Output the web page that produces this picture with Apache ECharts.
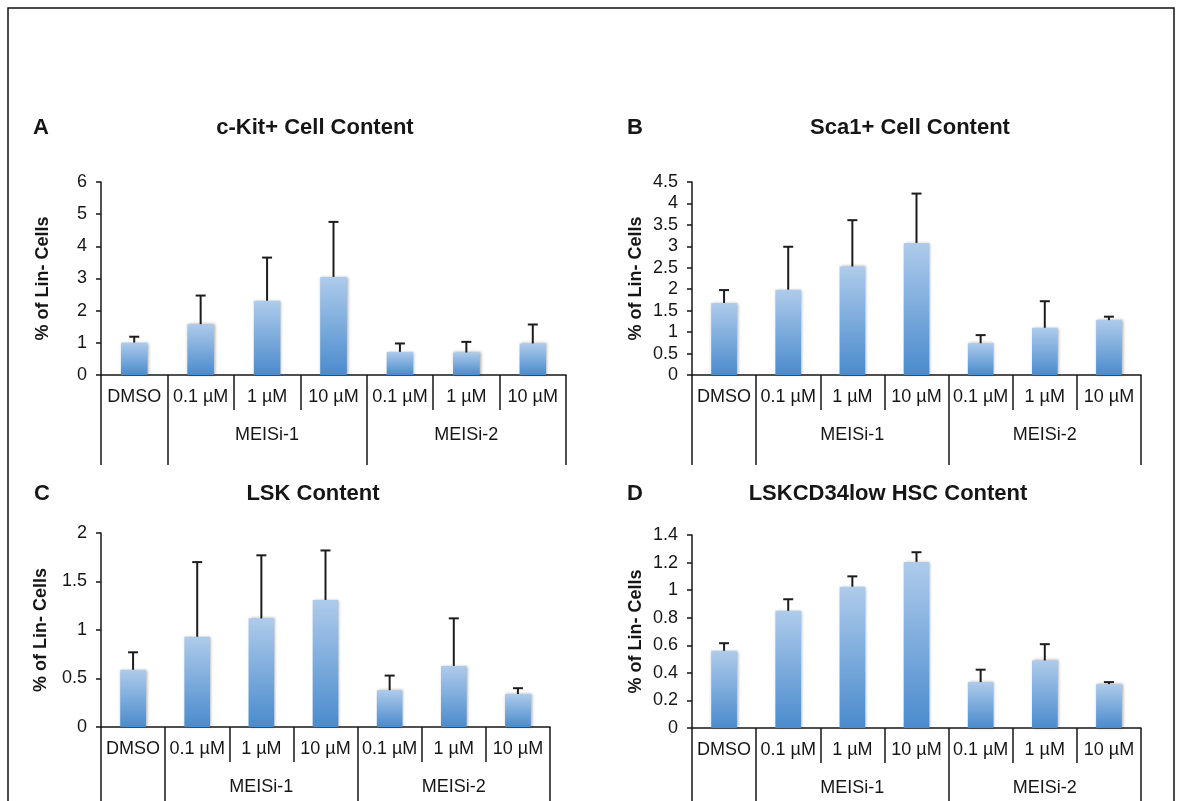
<!DOCTYPE html>
<html>
<head>
<meta charset="utf-8">
<script src="https://cdn.jsdelivr.net/npm/echarts@6/dist/echarts.min.js"></script>
<style>
  html, body { margin: 0; padding: 0; background: #ffffff; }
  #chart { width: 1182px; height: 801px; }
</style>
</head>
<body>
<div id="chart"></div>
<script>
// Treatment conditions (x axis, row 1) and their compound groups (row 2)
const doseLabels = ['DMSO', '0.1 µM', '1 µM', '10 µM', '0.1 µM', '1 µM', '10 µM'];
const groupLabels = ['', '', 'MEISi-1', '', '', 'MEISi-2', ''];
const groupBoundaryIndex = [0, 1, 4];

// Panel titles
const panelLetters = ['A', 'B', 'C', 'D'];
const panelTitles = ['c-Kit+ Cell Content', 'Sca1+ Cell Content', 'LSK Content', 'LSKCD34low HSC Content'];
const yAxisName = '% of Lin- Cells';

// Means and standard deviations (% of Lin- cells)
const ckitMean = [1.01, 1.58, 2.31, 3.05, 0.72, 0.70, 0.98];
const ckitSd   = [0.18, 0.89, 1.34, 1.71, 0.26, 0.33, 0.59];

const sca1Mean = [1.68, 1.99, 2.53, 3.08, 0.74, 1.10, 1.28];
const sca1Sd   = [0.30, 1.00, 1.08, 1.15, 0.19, 0.62, 0.08];

const lskMean = [0.59, 0.93, 1.12, 1.31, 0.38, 0.63, 0.34];
const lskSd   = [0.18, 0.77, 0.65, 0.51, 0.15, 0.49, 0.06];

const hscMean = [0.56, 0.85, 1.025, 1.205, 0.333, 0.49, 0.318];
const hscSd   = [0.055, 0.084, 0.075, 0.07, 0.09, 0.118, 0.015];

// Y axis ranges
const yMax = [6, 4.5, 2, 1.4];
const yStep = [1, 0.5, 0.5, 0.2];

const panelMeans = [ckitMean, sca1Mean, lskMean, hscMean];
const panelSds = [ckitSd, sca1Sd, lskSd, hscSd];

// Layout of the four plotting areas (pixels)
const panelBoxes = [
  { left: 101, top: 182, width: 465, height: 193, nameGap: 49, groupTick: 55, titleX: 315, titleY: 128, letterX: 33 },
  { left: 692, top: 182, width: 449, height: 193, nameGap: 47, groupTick: 55, titleX: 910, titleY: 128, letterX: 627 },
  { left: 101, top: 533, width: 449, height: 194, nameGap: 51, groupTick: 80, titleX: 313, titleY: 494, letterX: 34 },
  { left: 692, top: 535, width: 449, height: 193, nameGap: 47, groupTick: 80, titleX: 888, titleY: 494, letterX: 627 }
];

const FONT = '"Liberation Sans", Arial, Helvetica, sans-serif';
const INK = '#161616';

const chart = echarts.init(document.getElementById('chart'), null, { renderer: 'canvas' });

const grid = [], xAxis = [], yAxis = [], series = [], graphic = [];

panelBoxes.forEach(function (box, p) {
  grid.push({ left: box.left, top: box.top, width: box.width, height: box.height, containLabel: false });

  // Dose row with short dividers between every condition
  xAxis.push({
    type: 'category', gridIndex: p, data: doseLabels, position: 'bottom',
    axisLine: { show: true, lineStyle: { color: INK, width: 1.5 } },
    axisTick: { show: true, interval: 0, length: 35, lineStyle: { color: INK, width: 1.5 } },
    axisLabel: { interval: 0, margin: 13, color: INK, fontSize: 18, fontFamily: FONT },
    splitLine: { show: false }
  });
  // Group row with long dividers at group boundaries
  xAxis.push({
    type: 'category', gridIndex: p, data: groupLabels, position: 'bottom', offset: 35,
    axisLine: { show: false },
    axisTick: {
      show: true, length: box.groupTick,
      interval: function (i) { return groupBoundaryIndex.indexOf(i) >= 0; },
      lineStyle: { color: INK, width: 1.5 }
    },
    axisLabel: { interval: 0, margin: 16, color: INK, fontSize: 18, fontFamily: FONT },
    splitLine: { show: false }
  });

  yAxis.push({
    type: 'value', gridIndex: p, min: 0, max: yMax[p], interval: yStep[p],
    name: yAxisName, nameLocation: 'middle', nameRotate: 90, nameGap: box.nameGap,
    nameTextStyle: { color: INK, fontSize: 18, fontWeight: 'bold', fontFamily: FONT },
    axisLine: { show: true, lineStyle: { color: INK, width: 1.5 } },
    axisTick: { show: true, length: 5, lineStyle: { color: INK, width: 1.5 } },
    axisLabel: {
      color: INK, fontSize: 18, fontFamily: FONT, margin: 14,
      formatter: function (v) { return String(Math.round(v * 10) / 10); }
    },
    splitLine: { show: false }
  });

  series.push({
    type: 'bar', xAxisIndex: 2 * p, yAxisIndex: p,
    data: panelMeans[p], barWidth: '40%',
    itemStyle: {
      color: new echarts.graphic.LinearGradient(0, 0, 0, 1, [
        { offset: 0, color: '#aecbeb' },
        { offset: 1, color: '#4a8bcd' }
      ]),
      shadowBlur: 3, shadowColor: 'rgba(0,0,0,0.35)', shadowOffsetX: 1, shadowOffsetY: 0
    },
    emphasis: { disabled: true },
    silent: true, z: 2
  });

  // Upper error bars: mean to mean + SD, with a cap
  series.push({
    type: 'custom', xAxisIndex: 2 * p, yAxisIndex: p, z: 3, silent: true,
    data: panelMeans[p].map(function (m, i) { return [i, m, m + panelSds[p][i]]; }),
    encode: { x: 0, y: [1, 2] },
    renderItem: function (params, api) {
      const base = api.coord([api.value(0), api.value(1)]);
      const top = api.coord([api.value(0), api.value(2)]);
      const half = 5;
      return {
        type: 'group',
        children: [
          { type: 'line', shape: { x1: base[0], y1: base[1], x2: top[0], y2: top[1] },
            style: { stroke: '#1c1c1c', lineWidth: 2 } },
          { type: 'line', shape: { x1: top[0] - half, y1: top[1], x2: top[0] + half, y2: top[1] },
            style: { stroke: '#1c1c1c', lineWidth: 2 } }
        ]
      };
    }
  });

  graphic.push({
    type: 'text', x: box.letterX, y: box.titleY, silent: true,
    style: { text: panelLetters[p], fill: INK, font: 'bold 22px ' + FONT, textAlign: 'left', textVerticalAlign: 'middle' }
  });
  graphic.push({
    type: 'text', x: box.titleX, y: box.titleY, silent: true,
    style: { text: panelTitles[p], fill: INK, font: 'bold 22px ' + FONT, textAlign: 'center', textVerticalAlign: 'middle' }
  });
});

// Figure frame
graphic.push({
  type: 'rect', silent: true, z: -1,
  shape: { x: 8, y: 8, width: 1166, height: 820 },
  style: { fill: null, stroke: '#111111', lineWidth: 1.5 }
});

chart.setOption({
  backgroundColor: '#ffffff',
  animation: false,
  grid: grid,
  xAxis: xAxis,
  yAxis: yAxis,
  series: series,
  graphic: graphic
});
</script>
</body>
</html>
